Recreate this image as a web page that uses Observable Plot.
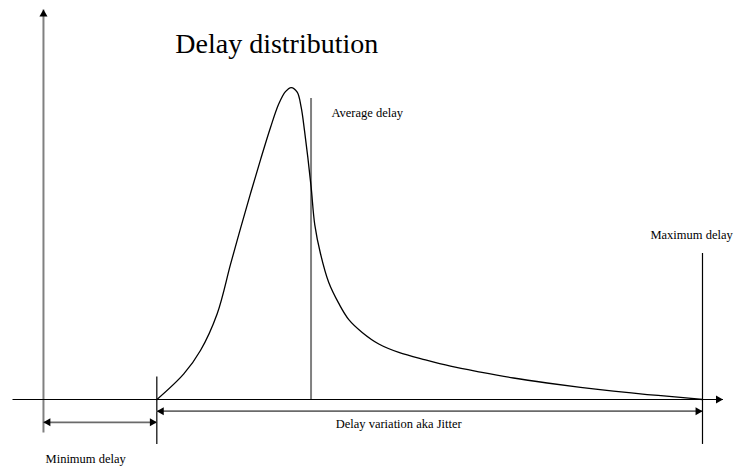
<!DOCTYPE html>
<html>
<head>
<meta charset="utf-8">
<script src="https://cdn.jsdelivr.net/npm/d3@7"></script>
<script src="https://cdn.jsdelivr.net/npm/@observablehq/plot@0.6"></script>
<style>
  html, body { margin: 0; padding: 0; background: #fff; }
  #chart svg { display: block; }
</style>
</head>
<body>
<div id="chart"></div>
<script>
// Delay distribution curve (x: delay units, y: relative density)
const curveX = [17.22, 21.29, 23.82, 26.36, 28.38, 29.89, 31.41, 32.94, 34.45, 35.71, 36.72, 37.59, 38.5, 39.1, 39.61, 40.11, 40.62, 41.17, 42.03, 43.29, 44.81, 46.33, 48.36, 50.88, 53.92, 57.97, 61.76, 66.31, 71.32, 76.43, 81.49, 86.49, 91.61, 96.66, 100];
const curveY = [0, 8.2, 15.7, 27.5, 43.3, 54.8, 66.0, 76.9, 87.2, 94.8, 98.7, 100, 98.5, 93.7, 86.2, 77.7, 68.0, 56.0, 46.8, 37.5, 30.8, 25.6, 21.5, 17.8, 15.1, 12.7, 10.7, 8.8, 6.9, 5.3, 3.9, 2.7, 1.6, 0.7, 0];

// Key delay values
const minDelay = 17.2;
const avgDelay = 40.6;
const maxDelay = 100;

// Text labels
const titleText = "Delay distribution";
const labelNames = ["Average delay", "Maximum delay", "Delay variation aka Jitter", "Minimum delay"];
const labelX = [43.7, 92.1, 53.9, 6.4];
const labelY = [91.8, 52.6, -8.0, -19.2];
const labelAnchor = ["start", "start", "middle", "middle"];

const xDomain = [-6.52, 105.16];
const yDomain = [-21.47, 127.9];

const curve = curveX.map((x, i) => ({x, y: curveY[i]}));
const labels = labelNames.map((t, i) => ({t, x: labelX[i], y: labelY[i], a: labelAnchor[i]}));

// axes / guides
const axisY = [{x1: 0, y1: -10.6, x2: 0, y2: 125}];
const axisX = [{x1: -4.7, y1: 0, x2: 103.1, y2: 0}];
const vlinesBlack = [
  {x: minDelay, y1: -14.4, y2: 7.2},
  {x: maxDelay, y1: -14.4, y2: 46.8}
];
const vlinesGray = [{x: avgDelay, y1: 0, y2: 96.5}];
const spans = [
  {x1: 0, x2: minDelay, y: -7.3},
  {x1: minDelay, x2: maxDelay, y: -3.75}
];
// arrow heads: position of tip, direction
const heads = [
  {x: 0, y: 125, dir: "up"},
  {x: 103.1, y: 0, dir: "right"},
  {x: 0, y: -7.3, dir: "left"},
  {x: minDelay, y: -7.3, dir: "right"},
  {x: minDelay, y: -3.75, dir: "left"},
  {x: maxDelay, y: -3.75, dir: "right"}
];
const rot = {up: 0, right: 90, left: -90, down: 180};
const off = 4.6;
function headMark(dir) {
  const d = heads.filter(h => h.dir === dir);
  return Plot.dot(d, {
    x: "x", y: "y", r: 3, symbol: "triangle", fill: "#000", stroke: "none",
    rotate: rot[dir],
    dx: dir === "right" ? -off : dir === "left" ? off : 0,
    dy: dir === "up" ? off : dir === "down" ? -off : 0
  });
}

const chart = Plot.plot({
  width: 736,
  height: 466,
  marginTop: 0, marginRight: 0, marginBottom: 0, marginLeft: 0,
  x: {domain: xDomain, axis: null},
  y: {domain: yDomain, axis: null},
  style: {background: "#fff", fontFamily: "'Liberation Serif', 'Times New Roman', serif"},
  marks: [
    Plot.link(axisY, {x1: "x1", y1: "y1", x2: "x2", y2: "y2", stroke: "#808080", strokeWidth: 2}),
    Plot.link(axisX, {x1: "x1", y1: "y1", x2: "x2", y2: "y2", stroke: "#000", strokeWidth: 1.2}),
    Plot.ruleX(vlinesBlack, {x: "x", y1: "y1", y2: "y2", stroke: "#000", strokeWidth: 1.2}),
    Plot.ruleX(vlinesGray, {x: "x", y1: "y1", y2: "y2", stroke: "#808080", strokeWidth: 2}),
    Plot.ruleY(spans, {y: "y", x1: "x1", x2: "x2", stroke: "#6a6a6a", strokeWidth: 1.8}),
    Plot.line(curve, {x: "x", y: "y", curve: "catmull-rom", stroke: "#000", strokeWidth: 1.3}),
    headMark("up"), headMark("right"), headMark("left"),
    Plot.text([titleText], {x: [35.4], y: [111.2], text: d => d, fontSize: 28, lineAnchor: "bottom", fill: "#000"}),
    Plot.text(labels.filter(d => d.a === "middle"), {x: "x", y: "y", text: "t", textAnchor: "middle", fontSize: 12.5, fill: "#000"}),
    Plot.text(labels.filter(d => d.a === "start"), {x: "x", y: "y", text: "t", textAnchor: "start", fontSize: 12.5, fill: "#000"})
  ]
});
document.getElementById("chart").appendChild(chart);
</script>
</body>
</html>
